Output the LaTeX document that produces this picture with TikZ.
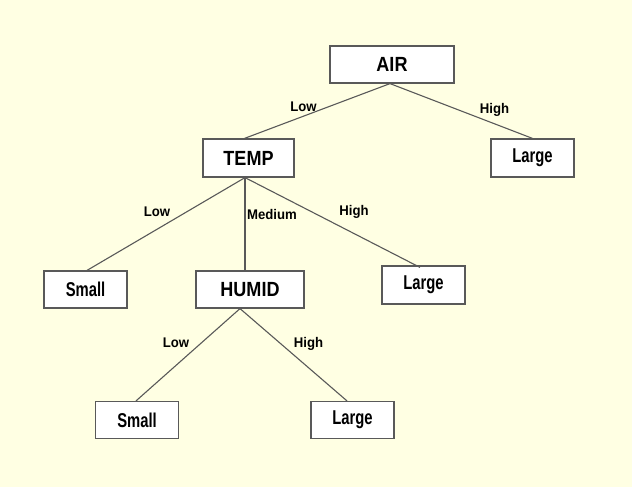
\documentclass[tikz,border=0pt]{standalone}
\usepackage{fontspec}
\setmainfont{Liberation Sans}
\newfontfamily\boxfont[FakeStretch=0.88]{Liberation Sans}
\newfontfamily\leaffont[FakeStretch=0.74]{Liberation Sans}
\newfontfamily\edgefont[FakeStretch=0.94]{Liberation Sans}
\definecolor{bgyellow}{HTML}{FFFFE3}
\definecolor{linegray}{HTML}{595959}
\begin{document}
\begin{tikzpicture}[x=1pt,y=-1pt,
		test/.style={draw=linegray,line width=1.2pt,fill=white,minimum height=37pt,font=\boxfont\bfseries\fontsize{20.5}{22}\selectfont},
		leaf/.style={test,minimum width=83pt,font=\leaffont\bfseries\fontsize{20}{22}\selectfont},
		branch/.style={draw=linegray,line width=1.1pt},
		lbl/.style={font=\edgefont\bfseries\fontsize{14}{16}\selectfont,inner sep=0pt}]
		\fill [bgyellow] (0,0) rectangle (632,487);
		\useasboundingbox (0,0) rectangle (632,487);
		% tests
		\node [test,minimum width=124pt] (air) at (392,64.5) {AIR};
		\node [test,minimum width=91pt,minimum height=38pt] (temp) at (248.5,158) {TEMP};
		\node [test,minimum width=108pt] (humid) at (250,289.5) {HUMID};
		% leaves
		\node [leaf,minimum height=38pt] (large1) at (532.5,158) {Large};
		\node [leaf] (small1) at (85.5,289.5) {Small};
		\node [leaf,minimum height=38pt] (large2) at (423.5,285) {Large};
		\node [leaf] (small2) at (137,420) {Small};
		\node [leaf] (large3) at (352.5,420) {Large};
		% branches
		\draw [branch] ([xshift=-2pt]air.south) -- ([xshift=-4pt]temp.north);
		\draw [branch] ([xshift=-2pt]air.south) -- (large1.north);
		\draw [branch] ([xshift=-3.5pt]temp.south) -- ([xshift=1.5pt]small1.north);
		\draw [branch] ([xshift=-3.5pt]temp.south) -- ([xshift=-5pt]humid.north);
		\draw [branch] ([xshift=-3.5pt]temp.south) -- ([xshift=-3.5pt,yshift=-2pt]large2.north);
		\draw [branch] ([xshift=-10pt]humid.south) -- ([xshift=-1pt]small2.north);
		\draw [branch] ([xshift=-10pt]humid.south) -- ([xshift=-5.5pt]large3.north);
		% branch labels
		\node [lbl] (lowA) at (303.5,107) {Low};
		\node [lbl] (highA) at (494.5,110) {High};
		\node [lbl] (lowT) at (157,212) {Low};
		\node [lbl] (medT) at (272,214.5) {Medium};
		\node [lbl] (highT) at (354,212) {High};
		\node [lbl] (lowH) at (176,343) {Low};
		\node [lbl] (highH) at (308.5,343.5) {High};
	\end{tikzpicture}
\end{document}
